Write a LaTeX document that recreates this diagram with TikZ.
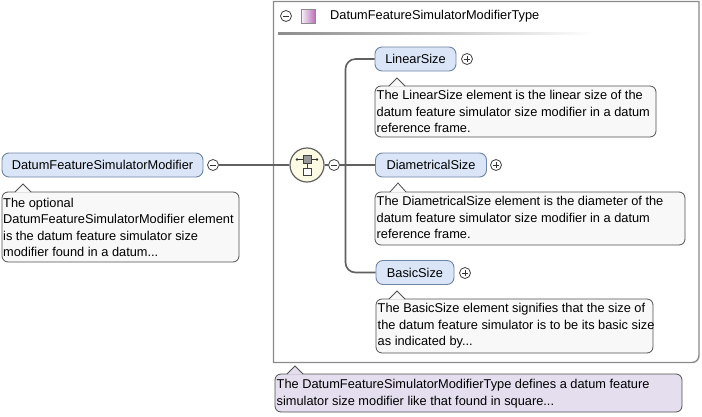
\documentclass[tikz,border=0pt]{standalone}
\usepackage{fontspec}
\setmainfont{Liberation Sans}
\usetikzlibrary{calc}
\definecolor{elfill}{HTML}{DAE6F7}
\definecolor{elborder}{HTML}{6F84A4}
\definecolor{docfill}{HTML}{F8F8F8}
\definecolor{docborder}{HTML}{505050}
\definecolor{typefill}{HTML}{E4DEEE}
\definecolor{seqfill}{HTML}{FDFBE3}
\definecolor{linec}{HTML}{606060}
\definecolor{boxborder}{HTML}{8A8A8A}
\tikzset{
  txt/.style={font=\fontsize{12.8}{16.3}\selectfont},
  elem/.style={draw=elborder, fill=elfill, rounded corners=7pt, line width=0.9pt, inner sep=0pt, txt, text=black},
  docbox/.style={draw=docborder, fill=docfill, rounded corners=6pt, line width=0.8pt, inner sep=0pt},
  doctxt/.style={txt, align=left, anchor=north west, inner sep=0pt},
  pm/.style={draw=black!75, fill=white, circle, minimum size=11pt, inner sep=0pt, line width=0.8pt},
  conn/.style={draw=linec, line width=1.6pt},
}
\begin{document}
\begin{tikzpicture}[x=1pt,y=-1pt]
\useasboundingbox (0,0) rectangle (702,416);
\fill[white] (0,0) rectangle (702,416);

% type box
\draw[boxborder, line width=1.4pt] (699,1.5) -- (273.5,1.5) -- (273.5,362.5) -- (692,362.5)
  arc[start angle=-90, end angle=0, x radius=7, y radius=-7] -- cycle;
% header
\node[pm] (tminus) at (286,16) {};
\draw[line width=0.7pt, black!80] ($(tminus.center)+(-3,0)$) -- ($(tminus.center)+(3,0)$);
\node[draw=black!45, left color=white!95!violet, right color=violet!55!white, minimum width=14pt, minimum height=14pt, inner sep=0pt] (tsq) at (308,16) {};
\node[txt, anchor=west, inner sep=0pt] (ttitle) at (330,16.5) {DatumFeatureSimulatorModifierType};
\shade[left color=black!45, right color=white] (278,32.5) rectangle (594,34.5);

% left element
\node[elem, minimum width=201pt, minimum height=24pt] (dfsm) at (102.5,165) {DatumFeatureSimulatorModifier};
\node[pm] (m1) at (213,165) {};
\draw[line width=0.7pt, black!80] ($(m1.center)+(-3,0)$) -- ($(m1.center)+(3,0)$);
% left doc
\draw[docbox] (2,192) rectangle (239,262);
\fill[docfill] (15,192.6) -- (23,184) -- (31,192.6) -- cycle;
\draw[docborder, line width=0.8pt] (15,192) -- (23,184) -- (31,192);
\node[doctxt] (d1) at (3,198) {The optional\\DatumFeatureSimulatorModifier element\\is the datum feature simulator size\\modifier found in a datum...};

% sequence
\node[circle, draw=linec, fill=seqfill, line width=1.2pt, minimum size=34pt, inner sep=0pt] (seq) at (307,165) {};
\draw[conn] (m1.east) -- (seq.west);
\draw[black!80, line width=0.8pt] (297,159.5) -- (317,159.5);
\fill[black!80] (297,159.5) circle (1.3pt) (317,159.5) circle (1.3pt);
\draw[black!75, fill=black!40, line width=0.7pt] (303,155.5) rectangle (311,163.5);
\draw[black!75, line width=0.8pt] (307,163.5) -- (307,168);
\draw[black!75, fill=white, line width=0.8pt] (303,168) rectangle (311,175.5);
\node[pm] (m2) at (334,165) {};
\draw[line width=0.7pt, black!80] ($(m2.center)+(-3,0)$) -- ($(m2.center)+(3,0)$);
\draw[conn] (seq.east) -- (m2.west);

% children
\node[elem, minimum width=81pt, minimum height=24pt] (ls) at (415.5,59) {LinearSize};
\node[elem, minimum width=111pt, minimum height=24pt] (ds) at (431,165) {DiametricalSize};
\node[elem, minimum width=78pt, minimum height=24pt] (bs) at (415,272.5) {BasicSize};
\coordinate (vtop) at (345.5,59);
\coordinate (vbot) at (345.5,272.5);
\draw[conn, rounded corners=10pt] (ls.west) -- (vtop) -- (vbot) -- (bs.west);
\draw[conn] (m2.east) -- (ds.west);

\foreach \n/\x/\y in {p1/467/59, p2/496/165, p3/465/273}{
  \node[pm] (\n) at (\x,\y) {};
  \draw[line width=0.7pt, black!80] ($(\n.center)+(-3,0)$) -- ($(\n.center)+(3,0)$) ($(\n.center)+(0,-3)$) -- ($(\n.center)+(0,3)$);
}

% child docs
\foreach \nm/\l/\t/\r/\b/\ax/\ay in {dl/375/86/656/137/397/78, dd/375/192/685/245/398/183, db/376/299/653/353/397/291}{
  \draw[docbox] (\l,\t) rectangle (\r,\b);
  \fill[docfill] (\ax-8,\t+0.6) -- (\ax,\ay) -- (\ax+8,\t+0.6) -- cycle;
  \draw[docborder, line width=0.8pt] (\ax-8,\t) -- (\ax,\ay) -- (\ax+8,\t);
}
\node[doctxt] (tl) at (376.5,90.5) {The LinearSize element is the linear size of the\\datum feature simulator size modifier in a datum\\reference frame.};
\node[doctxt] (td) at (376.5,196.5) {The DiametricalSize element is the diameter of the\\datum feature simulator size modifier in a datum\\reference frame.};
\node[doctxt] (tb) at (377.5,303.5) {The BasicSize element signifies that the size of\\the datum feature simulator is to be its basic size\\as indicated by...};

% type doc
\draw[docbox, fill=typefill] (275,374) rectangle (682,412);
\fill[typefill] (287,374.6) -- (295,366) -- (303,374.6) -- cycle;
\draw[docborder, line width=0.8pt] (287,374) -- (295,366) -- (303,374);
\node[doctxt] (tt) at (276.5,379.5) {The DatumFeatureSimulatorModifierType defines a datum feature\\simulator size modifier like that found in square...};
\end{tikzpicture}
\end{document}
